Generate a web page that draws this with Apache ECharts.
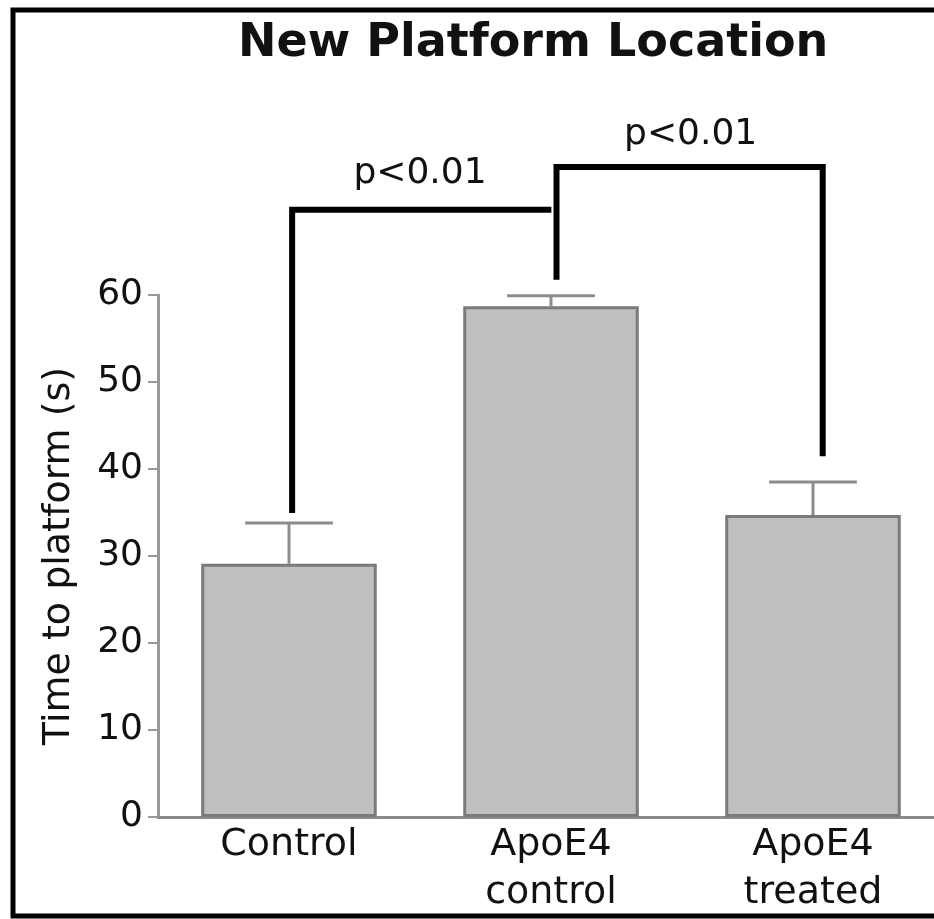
<!DOCTYPE html>
<html>
<head>
<meta charset="utf-8">
<script src="https://cdn.jsdelivr.net/npm/echarts@6/dist/echarts.min.js"></script>
<style>
html,body{margin:0;padding:0;background:#fff;}
#chart{width:934px;height:919px;}
</style>
</head>
<body>
<div id="chart"></div>
<script>
// ---- data ----
const categories = ['Control', 'ApoE4\ncontrol', 'ApoE4\ntreated'];
const meanValues = [29.1, 58.7, 34.7];
const errorUpper = [33.8, 59.9, 38.5];
const yMin = 0, yMax = 60, yStep = 10;

// significance brackets (x in category units, 0..3; y in seconds)
const bracketLeftX = [0.512, 0.512, 1.49];
const bracketLeftY = [35.3, 69.8, 69.8];
const bracketRightX = [1.521, 1.521, 2.537, 2.537];
const bracketRightY = [62.1, 74.7, 74.7, 41.8];
const pLabelX = [1.0, 2.033];
const pLabelY = [73.9, 78.4];
const pLabelText = ['p<0.01', 'p<0.01'];

const FONT = 'DejaVu Sans';

function zip(xs, ys) { return xs.map((x, i) => [x, ys[i]]); }

const chart = echarts.init(document.getElementById('chart'), null, {renderer: 'canvas'});

const option = {
  animation: false,
  backgroundColor: '#fff',
  title: {
    text: 'New Platform Location',
    left: 233,
    top: 16,
    textStyle: {fontFamily: FONT, fontWeight: 'bold', fontSize: 46, color: '#111'}
  },
  graphic: [{
    type: 'rect',
    shape: {x: 13, y: 10, width: 960, height: 906},
    style: {fill: 'none', stroke: '#000', lineWidth: 5},
    silent: true,
    z: 100
  }],
  grid: {left: 158, top: 295, height: 522, width: 786, containLabel: false, outerBoundsMode: 'none'},
  xAxis: [{
    type: 'category',
    data: categories,
    boundaryGap: true,
    axisLine: {show: true, lineStyle: {color: '#8a8a8a', width: 3}},
    axisTick: {show: false},
    axisLabel: {
      fontFamily: FONT, fontSize: 38, color: '#111', margin: 4, lineHeight: 48,
      interval: 0
    },
    splitLine: {show: false}
  }, {
    type: 'value',
    min: 0, max: 3,
    show: false
  }],
  yAxis: [{
    type: 'value',
    min: yMin, max: yMax, interval: yStep,
    name: 'Time to platform (s)',
    nameLocation: 'middle',
    nameGap: 80,
    nameTextStyle: {fontFamily: FONT, fontSize: 38, color: '#111'},
    axisLine: {show: true, lineStyle: {color: '#999', width: 3}},
    axisTick: {show: true, length: 10, lineStyle: {color: '#999', width: 2}},
    axisLabel: {fontFamily: FONT, fontSize: 36, color: '#111', margin: 15},
    splitLine: {show: false}
  }],
  series: [{
    type: 'bar',
    data: meanValues,
    barWidth: '67%',
    itemStyle: {color: '#bfbfbf', borderColor: '#7a7a7a', borderWidth: 3},
    z: 2
  }, {
    type: 'custom',
    data: meanValues.map((m, i) => [i, m, errorUpper[i]]),
    z: 3,
    renderItem: function (params, api) {
      const i = api.value(0);
      const top = api.coord([i, api.value(2)]);
      const base = api.coord([i, api.value(1)]);
      const band = api.size([1, 0])[0];
      const half = band * 0.67 * 0.25;
      const st = {stroke: '#8c8c8c', lineWidth: 3};
      return {
        type: 'group',
        children: [
          {type: 'line', shape: {x1: top[0], y1: top[1], x2: base[0], y2: base[1]}, style: st},
          {type: 'line', shape: {x1: top[0] - half, y1: top[1], x2: top[0] + half, y2: top[1]}, style: st}
        ]
      };
    }
  }, {
    type: 'line',
    xAxisIndex: 1,
    data: zip(bracketLeftX, bracketLeftY),
    symbol: 'none',
    clip: false,
    lineStyle: {color: '#000', width: 6, join: 'miter', cap: 'square'},
    z: 4
  }, {
    type: 'line',
    xAxisIndex: 1,
    data: zip(bracketRightX, bracketRightY),
    symbol: 'none',
    clip: false,
    lineStyle: {color: '#000', width: 6, join: 'miter', cap: 'square'},
    z: 4
  }, {
    type: 'scatter',
    xAxisIndex: 1,
    data: pLabelX.map((x, i) => ({value: [x, pLabelY[i]], name: pLabelText[i]})),
    symbolSize: 0,
    clip: false,
    itemStyle: {opacity: 1},
    label: {
      show: true, position: 'inside', formatter: '{b}',
      fontFamily: FONT, fontSize: 36, color: '#111', opacity: 1,
      textBorderWidth: 0
    },
    z: 5
  }]
};

chart.setOption(option);
</script>
</body>
</html>
